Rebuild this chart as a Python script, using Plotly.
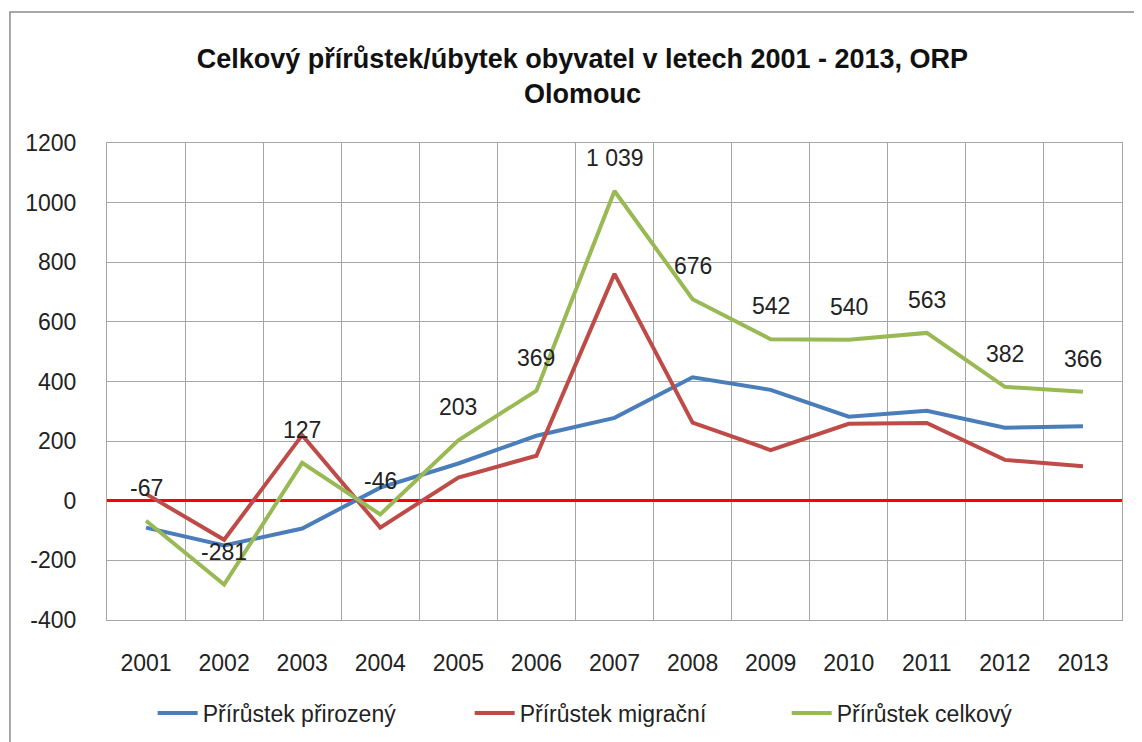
import plotly.graph_objects as go

years = list(range(2001, 2014))
prirozeny = [-90, -150, -93, 44, 125, 218, 278, 414, 372, 282, 302, 245, 250]
migracni = [23, -131, 220, -90, 78, 151, 761, 262, 170, 258, 261, 137, 116]
celkovy = [-67, -281, 127, -46, 203, 369, 1039, 676, 542, 540, 563, 382, 366]
celkovy_labels = ["-67", "-281", "127", "-46", "203", "369", "1 039", "676",
                  "542", "540", "563", "382", "366"]
y_ticks = [-400, -200, 0, 200, 400, 600, 800, 1000, 1200]
y_tick_labels = ["-400", "-200", "0", "200", "400", "600", "800", "1000", "1200"]

FONT = "Liberation Sans"
GRID = "#a6a6a6"

fig = go.Figure()
fig.add_trace(go.Scatter(x=years, y=prirozeny, mode="lines", name="Přírůstek přirozený",
                         line=dict(color="#4a7ebb", width=4)))
fig.add_trace(go.Scatter(x=years, y=migracni, mode="lines", name="Přírůstek migrační",
                         line=dict(color="#be4b48", width=4)))
fig.add_trace(go.Scatter(x=years, y=celkovy, mode="lines", name="Přírůstek celkový",
                         line=dict(color="#98b954", width=4)))

# data labels above the total series
for yr, val, lab in zip(years, celkovy, celkovy_labels):
    fig.add_annotation(x=yr, y=val, text=lab, showarrow=False, yshift=33, yanchor="middle",
                       font=dict(size=23, family=FONT, color="#222"))

# page body adds an 8px offset, margins compensate for it
fig.update_layout(
    width=1142, height=742,
    paper_bgcolor="white", plot_bgcolor="white",
    margin=dict(l=99, r=28, t=135, b=130, autoexpand=False),
    font=dict(family=FONT, color="#222"),
    title=dict(text="<b>Celkový přírůstek/úbytek obyvatel v letech 2001 - 2013, ORP<br>Olomouc</b>",
               x=0.503, xanchor="center", y=1 - 60 / 742, yanchor="middle",
               yref="container", font=dict(size=27, family=FONT, color="#111")),
    legend=dict(orientation="h", x=0.045, xanchor="left", y=-0.195, yanchor="middle",
                font=dict(size=23, family=FONT), itemwidth=40, entrywidth=262,
                traceorder="normal"),
    showlegend=True,
)
fig.update_xaxes(range=[2000.5, 2013.5], tickvals=years, ticktext=[str(y) for y in years],
                 showgrid=False, tickfont=dict(size=23), ticks="", zeroline=False,
                 ticklabelstandoff=22,
                 minor=dict(tick0=2000.5, dtick=1, showgrid=True, gridcolor=GRID, gridwidth=1),
                 showline=True, linecolor=GRID, mirror=True)
fig.update_yaxes(range=[-400, 1200], tickvals=y_ticks, ticktext=y_tick_labels,
                 showgrid=True, gridcolor=GRID,
                 tickfont=dict(size=23), ticks="", zeroline=True, zerolinecolor="#ff0000",
                 zerolinewidth=3, showline=True, linecolor=GRID, mirror=True,
                 ticklabelstandoff=25)

fig.add_shape(type="rect", xref="paper", yref="paper", x0=-0.0956, x1=1.05, y0=-0.27, y1=1.2746,
              line=dict(color="#8a8a8a", width=1.5), fillcolor="rgba(0,0,0,0)", layer="below")

fig.write_html("out.html")
